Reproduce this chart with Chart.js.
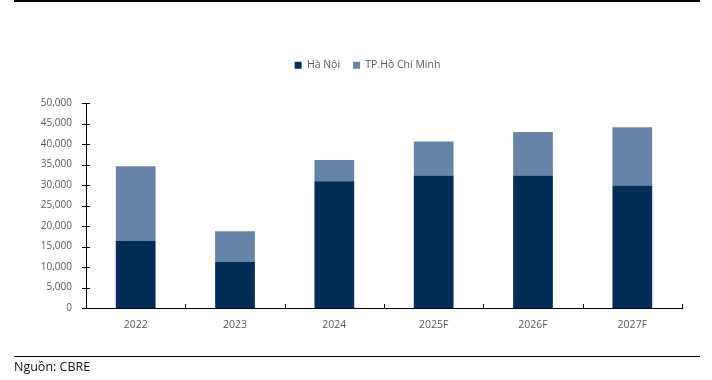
<!DOCTYPE html>
<html>
<head>
<meta charset="utf-8">
<script src="https://cdn.jsdelivr.net/npm/chart.js@4/dist/chart.umd.min.js"></script>
<style>
  html, body { margin: 0; padding: 0; background: #ffffff; }
  #wrap { position: relative; width: 712px; height: 380px; overflow: hidden; }
  #c { position: absolute; left: 0; top: 0; }
  .rule { position: absolute; left: 14px; width: 686px; background: #000; }
  #src { position: absolute; left: 14px; top: 358px; font-family: "Open Sans", sans-serif; font-size: 12.5px; color: #111; }
</style>
</head>
<body>
<div id="wrap">
  <canvas id="c" width="712" height="380"></canvas>
  <div class="rule" style="top:0px;height:2px;"></div>
  <div class="rule" style="top:356px;height:1px;"></div>
  <div id="src">Nguồn: CBRE</div>
</div>
<script>
const categories = ['2022', '2023', '2024', '2025F', '2026F', '2027F'];
const seriesNames = ['Hà Nội', 'TP.Hồ Chí Minh'];
const hanoi = [16400, 11200, 30900, 32300, 32300, 29900];
const hcmc = [18200, 7500, 5200, 8300, 10600, 14200];
const yTicks = [0, 5000, 10000, 15000, 20000, 25000, 30000, 35000, 40000, 45000, 50000];

const legendSpacer = {
  id: 'legendSpacer',
  beforeLayout(chart) {
    if (chart.legend && !chart.legend._patched) {
      const origFit = chart.legend.fit;
      chart.legend.fit = function () {
        origFit.call(this);
        this.height += 22.5;
      };
      const origDraw = chart.legend.draw;
      chart.legend.draw = function () {
        const ctx = this.ctx;
        ctx.save();
        ctx.translate(26.5, 0);
        origDraw.call(this);
        ctx.restore();
      };
      chart.legend._patched = true;
    }
  }
};

const tickMarks = {
  id: 'tickMarks',
  afterDraw(chart) {
    const ctx = chart.ctx;
    const x = chart.scales.x, y = chart.scales.y;
    const area = chart.chartArea;
    ctx.save();
    ctx.strokeStyle = '#000';
    ctx.lineWidth = 1;
    ctx.beginPath();
    y.ticks.forEach(t => {
      const py = Math.round(y.getPixelForValue(t.value)) + 0.5;
      ctx.moveTo(area.left - 4, py);
      ctx.lineTo(area.left + 4, py);
    });
    const n = categories.length;
    const half = (x.getPixelForValue(1) - x.getPixelForValue(0)) / 2;
    for (let i = 0; i < n; i++) {
      const px = Math.round(x.getPixelForValue(i) + half) + 0.5;
      ctx.moveTo(px, area.bottom - 4);
      ctx.lineTo(px, area.bottom);
    }
    ctx.stroke();
    ctx.restore();
  }
};

new Chart(document.getElementById('c'), {
  type: 'bar',
  data: {
    labels: categories,
    datasets: [
      { label: seriesNames[0], data: hanoi, backgroundColor: '#022D56', borderWidth: 0 },
      { label: seriesNames[1], data: hcmc, backgroundColor: '#6783A7', borderWidth: 0 }
    ]
  },
  options: {
    responsive: false,
    animation: false,
    devicePixelRatio: 1,
    layout: { padding: { left: 0, right: 30, top: 47, bottom: 0 } },
    datasets: { bar: { barPercentage: 0.4, categoryPercentage: 1.0 } },
    plugins: {
      tooltip: { enabled: false },
      legend: {
        position: 'top',
        align: 'center',
        labels: {
          boxWidth: 7,
          boxHeight: 7,
          padding: 13,
          color: '#595959',
          font: { family: '"Open Sans", sans-serif', size: 10.5 }
        }
      }
    },
    scales: {
      x: {
        stacked: true,
        grid: { display: false, drawTicks: false },
        border: { display: true, color: '#000', width: 1 },
        ticks: { color: '#595959', padding: 11, font: { family: '"Open Sans", sans-serif', size: 10.5 } },
        afterFit(scale) { scale.height = 72; }
      },
      y: {
        stacked: true,
        min: 0,
        max: 50000,
        afterBuildTicks(scale) { scale.ticks = yTicks.map(v => ({ value: v })); },
        grid: { display: false, drawTicks: false },
        border: { display: true, color: '#000', width: 1 },
        ticks: {
          color: '#595959',
          padding: 14,
          font: { family: '"Open Sans", sans-serif', size: 10 },
          callback: v => Number(v).toLocaleString('en-US')
        },
        afterFit(scale) { scale.width = 86; }
      }
    }
  },
  plugins: [legendSpacer, tickMarks]
});
</script>
</body>
</html>
